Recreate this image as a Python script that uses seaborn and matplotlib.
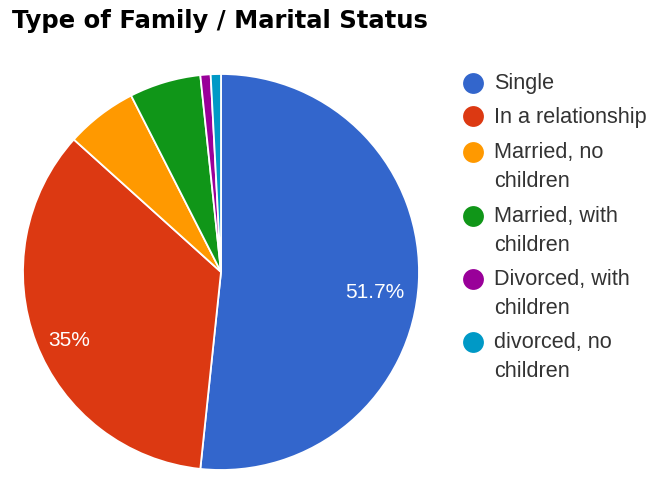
import matplotlib
matplotlib.use("Agg")
import matplotlib.pyplot as plt
import seaborn as sns

# Survey responses: type of family / marital status
categories = ["Single", "In a relationship", "Married, no\nchildren",
              "Married, with\nchildren", "Divorced, with\nchildren",
              "divorced, no\nchildren"]
counts = [62, 42, 7, 7, 1, 1]
colors = ["#3366cc", "#dc3912", "#ff9900", "#109618", "#990099", "#0099c6"]
title = "Type of Family / Marital Status"

sns.set_theme(style="white")
plt.rcParams["font.family"] = ["Liberation Sans", "DejaVu Sans"]

W, H = 656, 485
fig = plt.figure(figsize=(W / 100, H / 100), dpi=100)
fig.patch.set_facecolor("white")

# pie axes: centre (221, 273) px, radius 198 px
cx, cy, r = 221, 273, 198
ax = fig.add_axes([(cx - r) / W, (H - cy - r) / H, 2 * r / W, 2 * r / H])


def fmt_pct(p):
    if p < 10:
        return ""
    s = f"{p:.1f}"
    if s.endswith(".0"):
        s = s[:-2]
    return s + "%"


wedges, texts, autotexts = ax.pie(
    counts, colors=colors, startangle=90, counterclock=False,
    autopct=fmt_pct, pctdistance=0.8, radius=1,
    wedgeprops=dict(edgecolor="white", linewidth=1.3),
    textprops=dict(color="white", fontsize=15),
)
# nudge the percentage labels slightly below the wedge bisector
for t in autotexts:
    x, y = t.get_position()
    t.set_position((x - 0.02, y - 0.055))
ax.set_xlim(-1, 1)
ax.set_ylim(-1, 1)
ax.set_aspect("equal")
ax.axis("off")

# overlay in pixel coordinates for title and legend
ov = fig.add_axes([0, 0, 1, 1])
ov.set_xlim(0, W)
ov.set_ylim(H, 0)
ov.axis("off")

ov.text(12, 21, title, fontsize=17.5, fontweight="bold", color="#000000",
        family=["DejaVu Sans"], ha="left", va="center")

entry_y = [84, 117, 153, 217, 280, 343]
for label, col, y in zip(categories, colors, entry_y):
    ov.scatter([473], [y], s=15 ** 2, color=col, marker="o", linewidths=0)
    for k, line in enumerate(label.split("\n")):
        ov.text(494, y + k * 28.5, line, fontsize=15.6, color="#333333",
                ha="left", va="center")

fig.savefig("out.png", dpi=100)
